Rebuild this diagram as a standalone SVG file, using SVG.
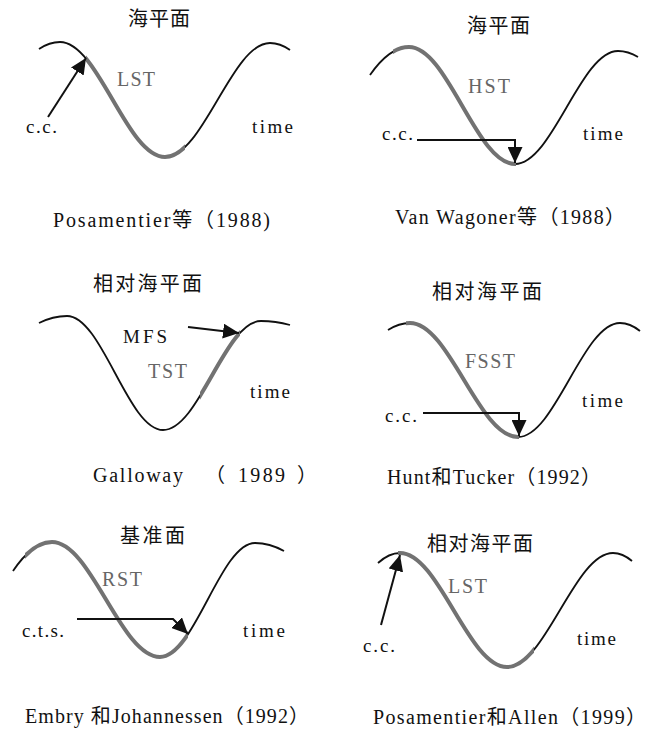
<svg xmlns="http://www.w3.org/2000/svg" xmlns:xlink="http://www.w3.org/1999/xlink" width="655" height="729" viewBox="0 0 655 729">
<style>
.curve{fill:none;stroke:#111;stroke-width:1.8}
.hl{fill:none;stroke:#727272;stroke-width:4}
.arr{fill:none;stroke:#111;stroke-width:2;marker-end:url(#ah)}
text{font-family:"Liberation Serif","Noto Sans CJK SC",serif;font-size:19px;fill:#111}
.g{fill:#666;font-size:20px}
.cjk{font-family:"Noto Sans CJK SC",sans-serif;font-size:20px}
.cap{font-size:20px}
</style>
<defs>
<marker id="ah" markerUnits="userSpaceOnUse" markerWidth="16" markerHeight="15" viewBox="0 0 16 15" refX="16" refY="7.5" orient="auto"><path d="M0,0 L16,7.5 L0,15 z" fill="#111"/></marker>
<path id="c1" d="M39,49 Q49.5,42 60,42 C98.2,42 126.8,157 165,157 C203.2,157 231.8,43 270,43 Q280,43 290,50"/>
<path id="c2" d="M370,75 Q389.5,47 409,47 C447.5,47 476.5,164 515,164 C552.4,164 580.6,51 618,51 Q628,51 638,57"/>
<path id="c3" d="M39,323 Q53,316 67,316 C102,316 128,430 163,430 C199,430 225,321 261,321 Q275.5,321 290,325"/>
<path id="c4" d="M388,330 Q399,323 410,323 C449.2,323 478.8,437 518,437 C555,437 583,323 620,323 Q630,323 640,331"/>
<path id="c5" d="M13,571 Q32.5,542 52,542 C91.2,542 120.8,657 160,657 C194.5,657 220.5,543 255,543 Q269.5,543 284,551"/>
<path id="c6" d="M378,563 Q389,553 400,553 C438.8,553 468.2,667 507,667 C545.5,667 574.5,553 613,553 Q622.5,553 632,561"/>
<clipPath id="k1"><rect x="86" y="0" width="99" height="200"/></clipPath>
<clipPath id="k2"><rect x="393" y="0" width="123" height="200"/></clipPath>
<clipPath id="k3"><rect x="200" y="280" width="40" height="180"/></clipPath>
<clipPath id="k4"><rect x="406" y="300" width="113" height="160"/></clipPath>
<clipPath id="k5"><rect x="25" y="520" width="163" height="160"/></clipPath>
<clipPath id="k6"><rect x="398" y="530" width="136" height="160"/></clipPath>
</defs>

<g id="panel1">
<use xlink:href="#c1" class="curve"/>
<use xlink:href="#c1" class="hl" clip-path="url(#k1)"/>
<text class="cjk" x="128" y="26" textLength="62">海平面</text>
<text class="g" x="117" y="86" textLength="38">LST</text>
<text x="26" y="133" textLength="31">c.c.</text>
<text x="252" y="133" textLength="41">time</text>
<text class="cap" x="53" y="227" textLength="217">Posamentier等（1988)</text>
</g>

<g id="panel2">
<use xlink:href="#c2" class="curve"/>
<use xlink:href="#c2" class="hl" clip-path="url(#k2)"/>
<text class="cjk" x="467" y="33" textLength="63">海平面</text>
<text class="g" x="468" y="93" textLength="42">HST</text>
<text x="382" y="140" textLength="31">c.c.</text>
<text x="583" y="140" textLength="40">time</text>
<text class="cap" x="395" y="224" textLength="230">Van Wagoner等（1988）</text>
</g>

<g id="panel3">
<use xlink:href="#c3" class="curve"/>
<use xlink:href="#c3" class="hl" clip-path="url(#k3)"/>
<text class="cjk" x="93" y="291" textLength="109">相对海平面</text>
<text x="123" y="343" textLength="44" font-size="20">MFS</text>
<text class="g" x="148" y="378" textLength="39">TST</text>
<text x="250" y="398" textLength="40">time</text>
<text class="cap" y="482"><tspan x="93" textLength="90">Galloway</tspan><tspan x="205">（</tspan><tspan x="238" textLength="47">1989</tspan><tspan x="297">）</tspan></text>
</g>

<g id="panel4">
<use xlink:href="#c4" class="curve"/>
<use xlink:href="#c4" class="hl" clip-path="url(#k4)"/>
<text class="cjk" x="432" y="299" textLength="110">相对海平面</text>
<text class="g" x="465" y="368" textLength="50">FSST</text>
<text x="385" y="422" textLength="32">c.c.</text>
<text x="582" y="407" textLength="41">time</text>
<text class="cap" x="387" y="484" textLength="214">Hunt和Tucker（1992）</text>
</g>

<g id="panel5">
<use xlink:href="#c5" class="curve"/>
<use xlink:href="#c5" class="hl" clip-path="url(#k5)"/>
<text class="cjk" x="120" y="543" textLength="65">基准面</text>
<text class="g" x="102" y="586" textLength="40">RST</text>
<text x="22" y="637" textLength="42">c.t.s.</text>
<text x="243" y="637" textLength="42">time</text>
<text class="cap" x="25" y="723" textLength="284">Embry 和Johannessen（1992）</text>
</g>

<g id="panel6">
<use xlink:href="#c6" class="curve"/>
<use xlink:href="#c6" class="hl" clip-path="url(#k6)"/>
<text class="cjk" x="427" y="551" textLength="106">相对海平面</text>
<text class="g" x="448" y="593" textLength="39">LST</text>
<text x="363" y="652" textLength="32">c.c.</text>
<text x="577" y="645" textLength="39">time</text>
<text class="cap" x="373" y="724" textLength="273">Posamentier和Allen（1999）</text>
</g>

<g id="connectors">
<path class="arr" d="M48,117 L86,58"/>
<path class="arr" d="M417,140 H515 V163"/>
<path class="arr" d="M188,327 L239,333"/>
<path class="arr" d="M423,413 H519 V436"/>
<path class="arr" d="M77,619 H173 L188,634"/>
<path class="arr" d="M381,625 L400,555"/>
</g>
</svg>
